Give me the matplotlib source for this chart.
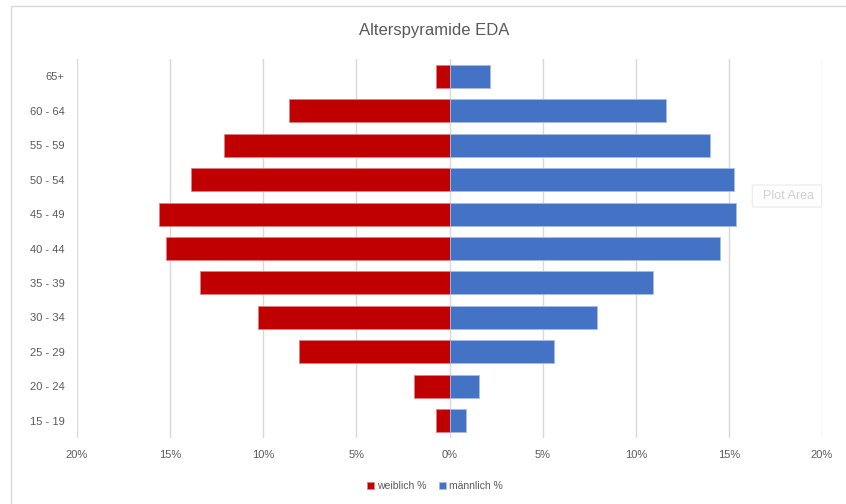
import numpy as np
import matplotlib.pyplot as plt
from matplotlib.patches import Rectangle, FancyBboxPatch
from matplotlib.ticker import FuncFormatter

# age groups from bottom to top
age_groups = ['15 - 19', '20 - 24', '25 - 29', '30 - 34', '35 - 39', '40 - 44',
              '45 - 49', '50 - 54', '55 - 59', '60 - 64', '65+']
weiblich = [0.7, 1.9, 8.1, 10.3, 13.4, 15.2, 15.6, 13.9, 12.1, 8.6, 0.7]
maennlich = [0.9, 1.6, 5.6, 7.9, 10.9, 14.5, 15.4, 15.3, 14.0, 11.6, 2.2]
x_ticks = [-20, -15, -10, -5, 0, 5, 10, 15, 20]

plt.rcParams['font.family'] = ['Liberation Sans', 'DejaVu Sans']
txt_col = '#595959'

fig = plt.figure(figsize=(8.46, 5.04), dpi=100)
fig.patch.set_facecolor('white')
# chart border
fig.patches.append(Rectangle((11/846, -0.01), 1.0, 1 - 6/504 + 0.01, transform=fig.transFigure,
                             fill=False, edgecolor='#d9d9d9', linewidth=1.0))

ax = fig.add_axes([77/846, 1 - 438/504, (822 - 77)/846, (438 - 59)/504])
y = np.arange(len(age_groups))
bw = 0.667
ax.barh(y, -np.array(weiblich), height=bw, color='#C00000', edgecolor='#e08080',
        linewidth=0.6, label='weiblich %', zorder=3)
ax.barh(y, maennlich, height=bw, color='#4472C4', edgecolor='#a8bde6',
        linewidth=0.6, label='männlich %', zorder=3)

ax.set_xlim(-20, 20)
ax.set_ylim(-0.5, len(age_groups) - 0.5)
ax.set_xticks(x_ticks)
ax.xaxis.set_major_formatter(FuncFormatter(lambda v, p: '%d%%' % abs(v)))
ax.set_yticks(y)
ax.set_yticklabels(age_groups)
ax.grid(axis='x', color='#d9d9d9', linewidth=1.0, zorder=0)
for s in ax.spines.values():
    s.set_visible(False)
ax.tick_params(axis='both', length=0, labelsize=8, labelcolor=txt_col)
ax.tick_params(axis='x', pad=9)
ax.tick_params(axis='y', pad=9)

fig.text(434/846, 1 - 30/504, 'Alterspyramide EDA', ha='center', va='center',
         fontsize=12, color=txt_col)

leg = fig.legend(loc='center', bbox_to_anchor=(435/846, 1 - 486/504), ncol=2,
                 frameon=False, fontsize=7.5, handlelength=0.7, handleheight=0.7,
                 handletextpad=0.3, columnspacing=1.2)
for t in leg.get_texts():
    t.set_color(txt_col)

# hover tooltip left on the screenshot
fig.patches.append(FancyBboxPatch((754/846, 1 - 206/504), 66/846, 20/504,
                                  boxstyle='round,pad=0.002', transform=fig.transFigure,
                                  facecolor='white', edgecolor='#eeeeee', linewidth=1.0,
                                  zorder=5))
fig.text(788/846, 1 - 196/504, 'Plot Area', ha='center', va='center',
         fontsize=9, color='#d0d0d0', zorder=6)

fig.savefig('out.png', dpi=100)
